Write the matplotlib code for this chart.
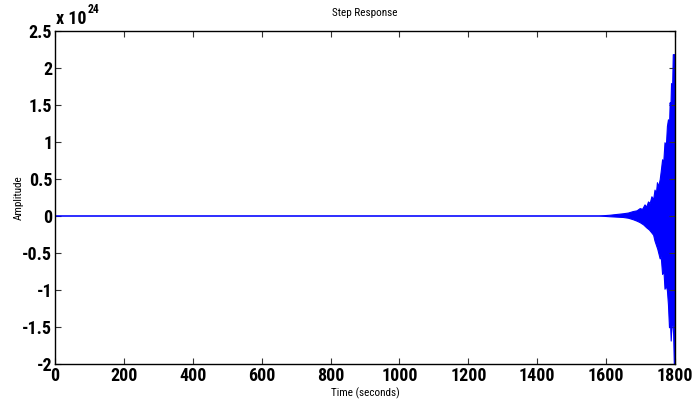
import matplotlib
matplotlib.use("Agg")
import matplotlib.pyplot as plt
import numpy as np
from matplotlib import font_manager

# ---- data (amplitude in units of 1e24) ----
t_upper = [0, 1580, 1611, 1630, 1650, 1665, 1679, 1690, 1699, 1706, 1713, 1718,
           1723, 1728, 1733, 1738, 1742, 1746, 1749, 1753, 1757, 1760, 1764,
           1767, 1771, 1775, 1778, 1781, 1784, 1786, 1788, 1790, 1793, 1795,
           1797, 1800]
upper = [0, 0, 0.01, 0.02, 0.03, 0.04, 0.06, 0.07, 0.10, 0.09, 0.15, 0.12,
         0.19, 0.17, 0.26, 0.22, 0.35, 0.30, 0.45, 0.40, 0.49, 0.60, 0.76,
         0.70, 0.99, 0.95, 1.21, 1.30, 1.20, 1.53, 1.45, 1.79, 1.70, 2.18,
         2.18, 2.18]
t_lower = [0, 1580, 1611, 1650, 1665, 1679, 1690, 1699, 1709, 1718, 1726,
           1733, 1738, 1742, 1750, 1757, 1760, 1764, 1768, 1771, 1775, 1778,
           1781, 1784, 1787, 1789, 1791, 1793, 1796, 1798, 1800]
lower = [0, 0, -0.01, -0.02, -0.03, -0.05, -0.07, -0.09, -0.12, -0.16, -0.19,
         -0.23, -0.26, -0.34, -0.45, -0.58, -0.55, -0.79, -0.75, -0.99, -0.95,
         -1.01, -1.20, -1.51, -1.45, -1.69, -1.50, -1.37, -1.60, -2.0, -2.0]

x_ticks = [0, 200, 400, 600, 800, 1000, 1200, 1400, 1600, 1800]
y_ticks = [-2, -1.5, -1, -0.5, 0, 0.5, 1, 1.5, 2, 2.5]
y_ticklabels = ["-2", "-1.5", "-1", "-0.5", "0", "0.5", "1", "1.5", "2", "2.5"]

title = "Step Response"
xlabel = "Time (seconds)"
ylabel = "Amplitude"

# ---- pick a narrow Arial-like family ----
fonts = font_manager.fontManager.ttflist
prefs = ["Liberation Sans Narrow", "Arial Narrow", "Nimbus Sans Narrow",
         "Roboto Condensed", "Open Sans Condensed", "Barlow Semi Condensed",
         "Asap Condensed", "Barlow Condensed", "Archivo Narrow"]

def pick(min_w, max_w):
    for p in prefs:
        for f in fonts:
            if f.name == p and f.style == "normal" and min_w <= int(f.weight) <= max_w:
                return p
    return "Liberation Sans"

bold_fam = [pick(700, 800), "DejaVu Sans"]
reg_fam = [pick(400, 400), "DejaVu Sans"]

fig = plt.figure(figsize=(6.93, 4.01), dpi=100)
ax = fig.add_axes([55/693, 37/401, 620/693, 333/401])

blue = (0, 0, 1)
poly_x = np.concatenate([t_upper, t_lower[::-1]])
poly_y = np.concatenate([upper, lower[::-1]])
ax.fill(poly_x, poly_y, color=blue, lw=0)
ax.plot(t_upper, upper, color=blue, lw=0.8)
ax.plot(t_lower, lower, color=blue, lw=0.8)

ax.set_xlim(0, 1800)
ax.set_ylim(-2, 2.5)
ax.set_xticks(x_ticks)
ax.set_xticklabels([str(v) for v in x_ticks], family=bold_fam, fontweight="bold", fontsize=13)
ax.set_yticks(y_ticks)
ax.set_yticklabels(y_ticklabels, family=bold_fam, fontweight="bold", fontsize=13)
ax.tick_params(direction="in", length=4, width=0.8, top=True, right=True,
               colors="#333333", labelcolor="black", pad=2)
for s in ax.spines.values():
    s.set_linewidth(1.0)
    s.set_color("black")

ax.set_title(title, family=reg_fam, fontsize=8, pad=11)
ax.set_xlabel(xlabel, family=reg_fam, fontsize=8, labelpad=2)
ax.set_ylabel(ylabel, family=reg_fam, fontsize=8, labelpad=-1)

fig.text(56/693, 1 - 24/401, "x 10", family=bold_fam, fontweight="bold", fontsize=13,
         ha="left", va="baseline")
fig.text(88/693, 1 - 13/401, "24", family=bold_fam, fontweight="bold", fontsize=8.5,
         ha="left", va="baseline")

fig.savefig("out.png", dpi=100)
